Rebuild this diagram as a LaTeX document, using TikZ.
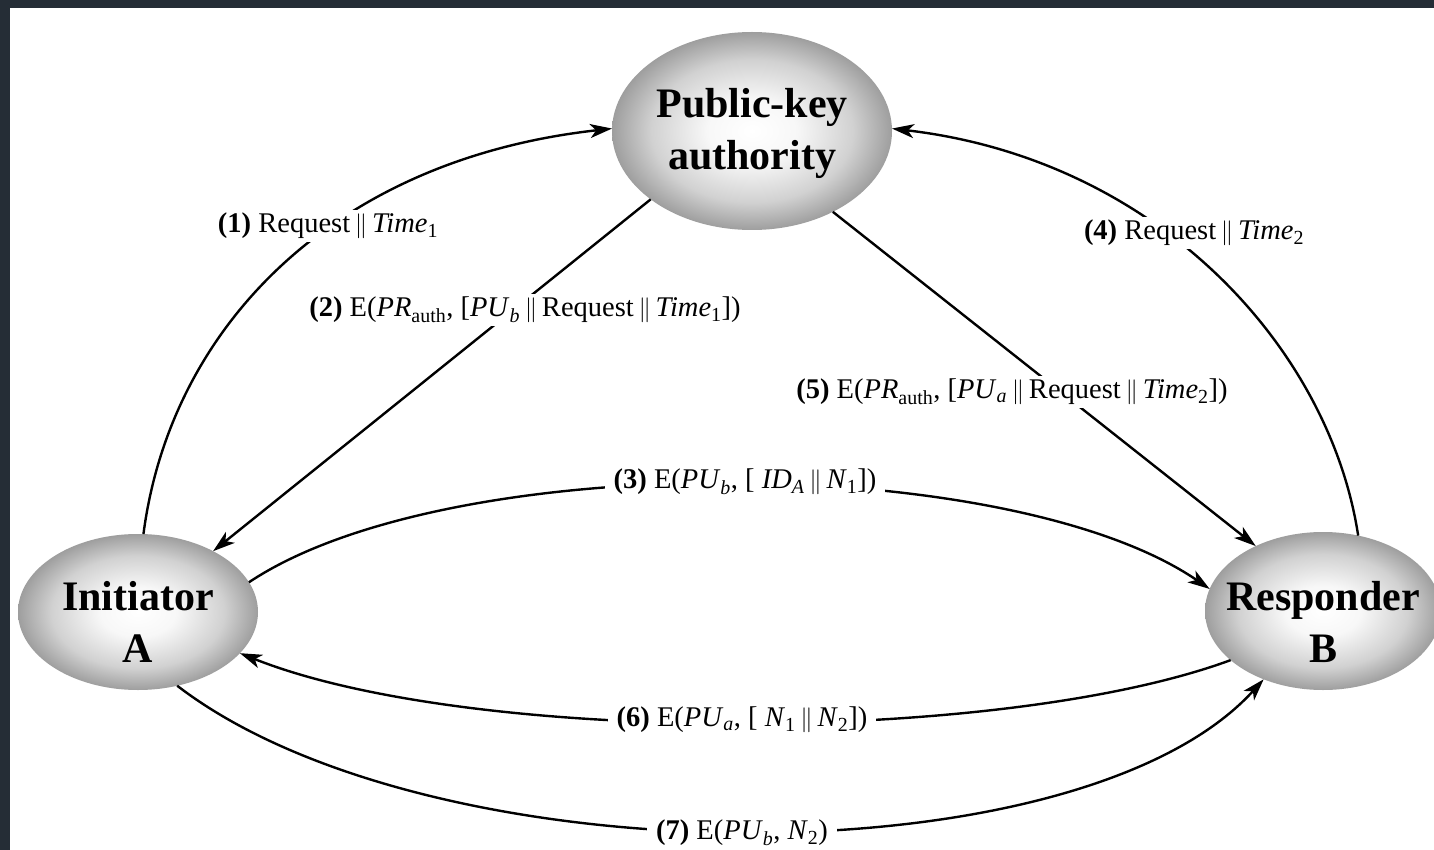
\documentclass[tikz,border=0pt]{standalone}
\usepackage{fontspec}
\setmainfont{Liberation Serif}
\usetikzlibrary{arrows.meta,shapes.geometric}

\definecolor{framecol}{HTML}{252D36}

% soft grey orb: white core fading to mid grey at the rim
\pgfdeclareradialshading{orb}{\pgfpoint{0bp}{0bp}}{%
  color(0bp)=(white); color(8bp)=(white!97!black);
  color(18bp)=(black!18); color(25bp)=(black!38); color(50bp)=(black!38)}

\newcommand{\sbs}[1]{\textsubscript{#1}}
\newcommand{\cat}{\,$\|$\,}

\begin{document}
\begin{tikzpicture}[x=1pt, y=-1pt,
  party/.style={ellipse, inner sep=0pt, outer sep=0pt, shading=orb},
  partytext/.style={align=center, font=\fontsize{42}{52}\selectfont\bfseries},
  msg/.style={line width=2.4pt, -{Stealth[length=22pt, width=14pt, inset=6pt]}},
  lbl/.style={fill=white, inner xsep=9pt, inner ysep=3pt,
              font=\fontsize{28.5}{33}\selectfont}]

  \useasboundingbox (0,0) rectangle (1434,850);
  \clip (0,0) rectangle (1434,850);
  \fill[framecol] (0,0) rectangle (1434,850);
  \fill[white] (10,8) rectangle (1434,850);

  % the three parties
  \node[party, minimum width=280pt, minimum height=198pt] (P) at (752,131) {};
  \node[party, minimum width=240pt, minimum height=156pt] (A) at (138,612) {};
  \node[party, minimum width=236pt, minimum height=158pt] (B) at (1323,611) {};

  \node[partytext] (Ptext) at ([yshift=-2pt]P.center) {Public-key\\authority};
  \node[partytext] (Atext) at ([yshift=-10pt]A.center) {Initiator\\A};
  \node[partytext] (Btext) at ([yshift=-11pt]B.center) {Responder\\B};

  % message flows
  \draw[msg] (A.86)  .. controls (170,330)  and (330,160)  .. (P.179);
  \draw[msg] (P.214) -- (A.39);
  \draw[msg] (A.15)  .. controls (450,448)  and (1010,452) .. (B.169);
  \draw[msg] (B.65)  .. controls (1330,350) and (1160,160) .. (P.1);
  \draw[msg] (P.315) -- (B.136);
  \draw[msg] (B.208) .. controls (1000,745) and (470,745)  .. (A.338);
  \draw[msg] (A.298) .. controls (430,880)  and (1080,882) .. (B.229);

  % message labels
  \node[lbl] (m1) at (328,226)  {\textbf{(1)} Request\cat\textit{Time}\sbs{1}};
  \node[lbl] (m2) at (525,310)  {\textbf{(2)} E(\textit{PR}\sbs{auth}, [\textit{PU}\sbs{\textit{b}}\cat Request\cat\textit{Time}\sbs{1}])};
  \node[lbl] (m3) at (745,482)  {\textbf{(3)} E(\textit{PU}\sbs{\textit{b}}, [ \textit{ID}\sbs{\textit{A}}\cat\textit{N}\sbs{1}])};
  \node[lbl] (m4) at (1194,233) {\textbf{(4)} Request\cat\textit{Time}\sbs{2}};
  \node[lbl] (m5) at (1012,392) {\textbf{(5)} E(\textit{PR}\sbs{auth}, [\textit{PU}\sbs{\textit{a}}\cat Request\cat\textit{Time}\sbs{2}])};
  \node[lbl] (m6) at (742,720)  {\textbf{(6)} E(\textit{PU}\sbs{\textit{a}}, [ \textit{N}\sbs{1}\cat\textit{N}\sbs{2}])};
  \node[lbl] (m7) at (742,833)  {\textbf{(7)} E(\textit{PU}\sbs{\textit{b}}, \textit{N}\sbs{2})};
\end{tikzpicture}
\end{document}
